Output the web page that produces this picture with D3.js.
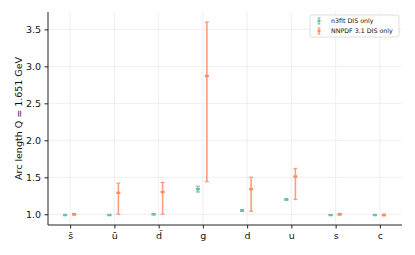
<!DOCTYPE html>
<html>
<head>
<meta charset="utf-8">
<script src="https://cdn.jsdelivr.net/npm/d3@7"></script>
<style>
  body { margin: 0; background: #fff; }
  text { font-family: "DejaVu Sans", sans-serif; }
</style>
</head>
<body>
<svg id="grafico"></svg>
<script>
const ancho = 415;
const alto = 255;

// datos
const sabores = ["s\u0304", "u\u0304", "d\u0304", "g", "d", "u", "s", "c"];
const n3fitCentro = [0.99, 0.99, 1.0, 1.34, 1.05, 1.20, 0.99, 0.99];
const n3fitError = [0.006, 0.006, 0.006, 0.04, 0.012, 0.012, 0.006, 0.006];
const nnpdfCentro = [1.0, 1.29, 1.30, 2.87, 1.34, 1.51, 1.0, 0.99];
const nnpdfBajo = [0.99, 1.0, 1.0, 1.44, 1.04, 1.20, 0.99, 0.98];
const nnpdfAlto = [1.01, 1.42, 1.43, 3.60, 1.50, 1.62, 1.01, 1.0];
const ticksY = [1.0, 1.5, 2.0, 2.5, 3.0, 3.5];

const margen = { izq: 48, der: 13, arr: 12, aba: 30 };

const svg = d3.select("#grafico").attr("width", ancho).attr("height", alto);

const x = d3.scalePoint()
  .domain(sabores)
  .range([margen.izq, ancho - margen.der])
  .padding(0.5);

const y = d3.scaleLinear()
  .domain([0.855, 3.735])
  .range([alto - margen.aba, margen.arr]);

// rejilla
svg.append("g")
  .selectAll("line.gy")
  .data(ticksY)
  .join("line")
  .attr("x1", margen.izq).attr("x2", ancho - margen.der)
  .attr("y1", d => y(d)).attr("y2", d => y(d))
  .attr("stroke", "#ebebeb").attr("stroke-width", 0.8);

svg.append("g")
  .selectAll("line.gx")
  .data(sabores)
  .join("line")
  .attr("x1", d => x(d)).attr("x2", d => x(d))
  .attr("y1", margen.arr).attr("y2", alto - margen.aba)
  .attr("stroke", "#ebebeb").attr("stroke-width", 0.8);

// ejes
const ejeY = svg.append("g")
  .attr("transform", `translate(${margen.izq},0)`)
  .call(d3.axisLeft(y).tickValues(ticksY).tickFormat(d3.format(".1f")).tickSize(3.5).tickPadding(3.5));
ejeY.select(".domain").attr("stroke", "#222").attr("d", `M0,${margen.arr}V${alto - margen.aba}`);
ejeY.selectAll(".tick line").attr("stroke", "#222");
ejeY.selectAll("text").attr("font-size", 9.5).attr("fill", "#111").style("font-family", "DejaVu Sans");

const ejeX = svg.append("g")
  .attr("transform", `translate(0,${alto - margen.aba})`)
  .call(d3.axisBottom(x).tickSize(3.5).tickPadding(3.5));
ejeX.select(".domain").attr("stroke", "#222").attr("d", `M${margen.izq},0H${ancho - margen.der}`);
ejeX.selectAll(".tick line").attr("stroke", "#222");
ejeX.selectAll("text").attr("font-size", 9.5).attr("fill", "#111").style("font-family", "DejaVu Sans");

svg.append("text")
  .attr("transform", `translate(22,${(margen.arr + alto - margen.aba) / 2}) rotate(-90)`)
  .attr("text-anchor", "middle")
  .attr("font-size", 9.5)
  .attr("fill", "#111")
  .text("Arc length Q = 1.651 GeV");

// barras de error
function dibujarSerie(filas, desplazamiento, color, cap) {
  const g = svg.append("g").attr("stroke", color).attr("fill", color);
  const grupo = g.selectAll("g").data(filas).join("g")
    .attr("transform", d => `translate(${x(d.sabor) + desplazamiento},0)`);
  grupo.append("line")
    .attr("y1", d => y(d.bajo)).attr("y2", d => y(d.alto))
    .attr("stroke-width", 1.6).attr("stroke-opacity", 0.85);
  grupo.append("line")
    .attr("x1", -cap).attr("x2", cap)
    .attr("y1", d => y(d.bajo)).attr("y2", d => y(d.bajo))
    .attr("stroke-width", 1.2).attr("stroke-opacity", 0.85);
  grupo.append("line")
    .attr("x1", -cap).attr("x2", cap)
    .attr("y1", d => y(d.alto)).attr("y2", d => y(d.alto))
    .attr("stroke-width", 1.2).attr("stroke-opacity", 0.85);
  grupo.append("rect")
    .attr("x", -2).attr("width", 4)
    .attr("y", d => y(d.centro) - 1.2).attr("height", 2.4)
    .attr("stroke", "none");
}

const filasN3fit = sabores.map((s, i) => ({
  sabor: s, centro: n3fitCentro[i],
  bajo: n3fitCentro[i] - n3fitError[i], alto: n3fitCentro[i] + n3fitError[i]
}));
const filasNnpdf = sabores.map((s, i) => ({
  sabor: s, centro: nnpdfCentro[i], bajo: nnpdfBajo[i], alto: nnpdfAlto[i]
}));

dibujarSerie(filasN3fit, -5, "#66c2a5", 2);
dibujarSerie(filasNnpdf, 4, "#fc8d62", 2);

// leyenda
const leyenda = svg.append("g").attr("transform", "translate(310,15)");
leyenda.append("rect")
  .attr("width", 89).attr("height", 22).attr("rx", 2)
  .attr("fill", "#fff").attr("fill-opacity", 0.8)
  .attr("stroke", "#d6d6d6").attr("stroke-width", 0.8);
const entradas = [["n3fit DIS only", "#66c2a5"], ["NNPDF 3.1 DIS only", "#fc8d62"]];
entradas.forEach(([nombre, color], i) => {
  const fila = leyenda.append("g").attr("transform", `translate(9,${6 + i * 10})`);
  fila.append("line").attr("y1", -3).attr("y2", 3).attr("stroke", color).attr("stroke-width", 1.2);
  fila.append("line").attr("x1", -1.5).attr("x2", 1.5).attr("y1", -3).attr("y2", -3).attr("stroke", color);
  fila.append("line").attr("x1", -1.5).attr("x2", 1.5).attr("y1", 3).attr("y2", 3).attr("stroke", color);
  fila.append("rect").attr("x", -1.5).attr("y", -1).attr("width", 3).attr("height", 2).attr("fill", color);
  fila.append("text")
    .attr("x", 12).attr("y", 2.2)
    .attr("font-size", 6.3).attr("fill", "#111")
    .text(nombre);
});
</script>
</body>
</html>
